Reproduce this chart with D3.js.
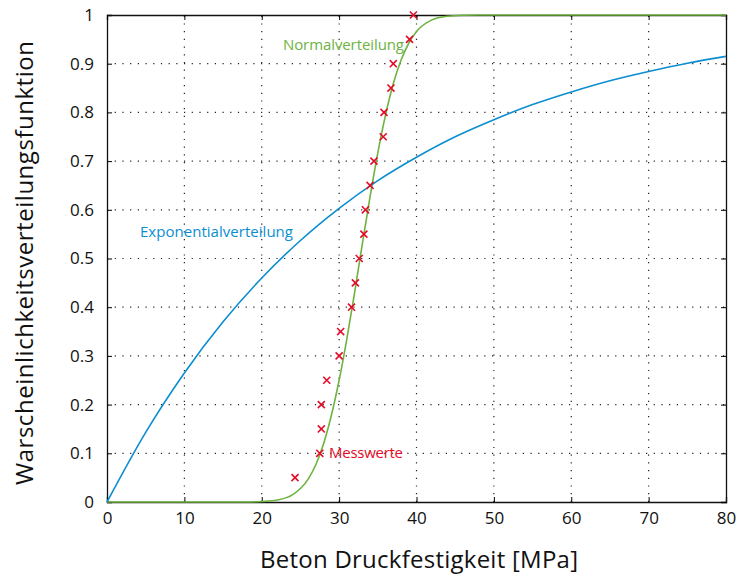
<!DOCTYPE html>
<html>
<head>
<meta charset="utf-8">
<script src="https://cdn.jsdelivr.net/npm/d3@7/dist/d3.min.js"></script>
<style>
  body { margin: 0; background: #fff; }
  svg text { font-family: "Open Sans", "Noto Sans", sans-serif; }
</style>
</head>
<body>
<svg id="chart" width="742" height="579"></svg>
<script>
// values
var expX = [0, 5, 10, 15, 20, 25, 30, 35, 40, 45, 50, 55, 60, 65, 70, 75, 80];
var expY = [0, 0.143, 0.265, 0.370, 0.460, 0.537, 0.603, 0.660, 0.708, 0.750, 0.785, 0.816, 0.842, 0.865, 0.884, 0.901, 0.915];

var normX = [0, 18, 20, 22, 24, 26, 27, 28, 29, 30, 31, 32, 33, 34, 35, 36, 37, 38, 39, 40, 42, 44, 46, 48, 80];
var normY = [0, 0, 0.001, 0.004, 0.015, 0.047, 0.077, 0.12, 0.178, 0.25, 0.335, 0.43, 0.53, 0.627, 0.717, 0.795, 0.859, 0.907, 0.942, 0.966, 0.99, 0.9976, 0.9996, 1, 1];

var measX = [24.3, 27.5, 27.7, 27.7, 28.4, 30.0, 30.2, 31.6, 32.1, 32.6, 33.2, 33.4, 34.0, 34.5, 35.7, 35.8, 36.7, 37.0, 39.1, 39.6];
var measY = [0.05, 0.1, 0.15, 0.2, 0.25, 0.3, 0.35, 0.4, 0.45, 0.5, 0.55, 0.6, 0.65, 0.7, 0.75, 0.8, 0.85, 0.9, 0.95, 1.0];

var xTicks = [0, 10, 20, 30, 40, 50, 60, 70, 80];
var yTicks = [0, 0.1, 0.2, 0.3, 0.4, 0.5, 0.6, 0.7, 0.8, 0.9, 1];

var svg = d3.select('#chart');
var x = d3.scaleLinear().domain([0, 80]).range([107, 726]);
var y = d3.scaleLinear().domain([0, 1]).range([502, 15]);

// dotted grid
svg.append('g')
  .selectAll('line')
  .data(xTicks.slice(1, -1))
  .enter().append('line')
    .attr('x1', d => x(d)).attr('x2', d => x(d))
    .attr('y1', y(0)).attr('y2', y(1))
    .attr('stroke', '#222').attr('stroke-width', 1.2)
    .attr('stroke-dasharray', '1.2,6.5');
svg.append('g')
  .selectAll('line')
  .data(yTicks.slice(1, -1))
  .enter().append('line')
    .attr('x1', x(0)).attr('x2', x(80))
    .attr('y1', d => y(d)).attr('y2', d => y(d))
    .attr('stroke', '#222').attr('stroke-width', 1.2)
    .attr('stroke-dasharray', '1.2,6.5');

// axes (ticks pointing inward, like the original)
svg.append('g')
  .attr('transform', `translate(0,${y(0)})`)
  .call(d3.axisBottom(x).tickValues(xTicks).tickSize(-5).tickPadding(10).tickFormat(d3.format('d')))
  .call(g => g.selectAll('text').attr('font-size', 17).attr('fill', '#111'));
svg.append('g')
  .attr('transform', `translate(${x(0)},0)`)
  .call(d3.axisLeft(y).tickValues(yTicks).tickSize(-5).tickPadding(13).tickFormat(d => d === 0 || d === 1 ? d : d3.format('.1f')(d)))
  .call(g => g.selectAll('text').attr('font-size', 17).attr('fill', '#111'));
svg.append('g')
  .attr('transform', `translate(0,${y(1)})`)
  .call(d3.axisTop(x).tickValues(xTicks).tickSize(-5).tickFormat(''));
svg.append('g')
  .attr('transform', `translate(${x(80)},0)`)
  .call(d3.axisRight(y).tickValues(yTicks).tickSize(-5).tickFormat(''));
svg.selectAll('.domain').attr('stroke', '#111').attr('stroke-width', 1.3);

// curves
var expData = expX.map((v, i) => [v, expY[i]]);
var normData = normX.map((v, i) => [v, normY[i]]);
var line = d3.line().x(d => x(d[0])).y(d => y(d[1])).curve(d3.curveMonotoneX);

svg.append('path')
  .datum(normData)
  .attr('d', line)
  .attr('fill', 'none')
  .attr('stroke', '#6db33f')
  .attr('stroke-width', 1.6);
svg.append('path')
  .datum(expData)
  .attr('d', line)
  .attr('fill', 'none')
  .attr('stroke', '#0b8ed0')
  .attr('stroke-width', 1.6);

// measured points as red crosses
var cross = d3.symbol().type(d3.symbolX).size(34);
svg.append('g')
  .selectAll('path')
  .data(measX.map((v, i) => [v, measY[i]]))
  .enter().append('path')
    .attr('d', cross)
    .attr('transform', d => `translate(${x(d[0])},${y(d[1])})`)
    .attr('fill', 'none')
    .attr('stroke', '#e30d2a')
    .attr('stroke-width', 1.6);

// labels
svg.append('text').attr('x', 283).attr('y', 50).attr('font-size', 15).attr('textLength', 121).attr('fill', '#6db33f').text('Normalverteilung');
svg.append('text').attr('x', 140).attr('y', 237).attr('font-size', 15).attr('textLength', 153).attr('fill', '#0b8ed0').text('Exponentialverteilung');
svg.append('text').attr('x', 329).attr('y', 458).attr('font-size', 15).attr('textLength', 74).attr('fill', '#e30d2a').text('Messwerte');

svg.append('text')
  .attr('x', 419).attr('y', 568)
  .attr('text-anchor', 'middle')
  .attr('font-size', 24).attr('textLength', 318).attr('fill', '#111')
  .text('Beton Druckfestigkeit [MPa]');
svg.append('text')
  .attr('transform', 'translate(33,263) rotate(-90)')
  .attr('text-anchor', 'middle')
  .attr('font-size', 24).attr('textLength', 444).attr('fill', '#111')
  .text('Warscheinlichkeitsverteilungsfunktion');
</script>
</body>
</html>
